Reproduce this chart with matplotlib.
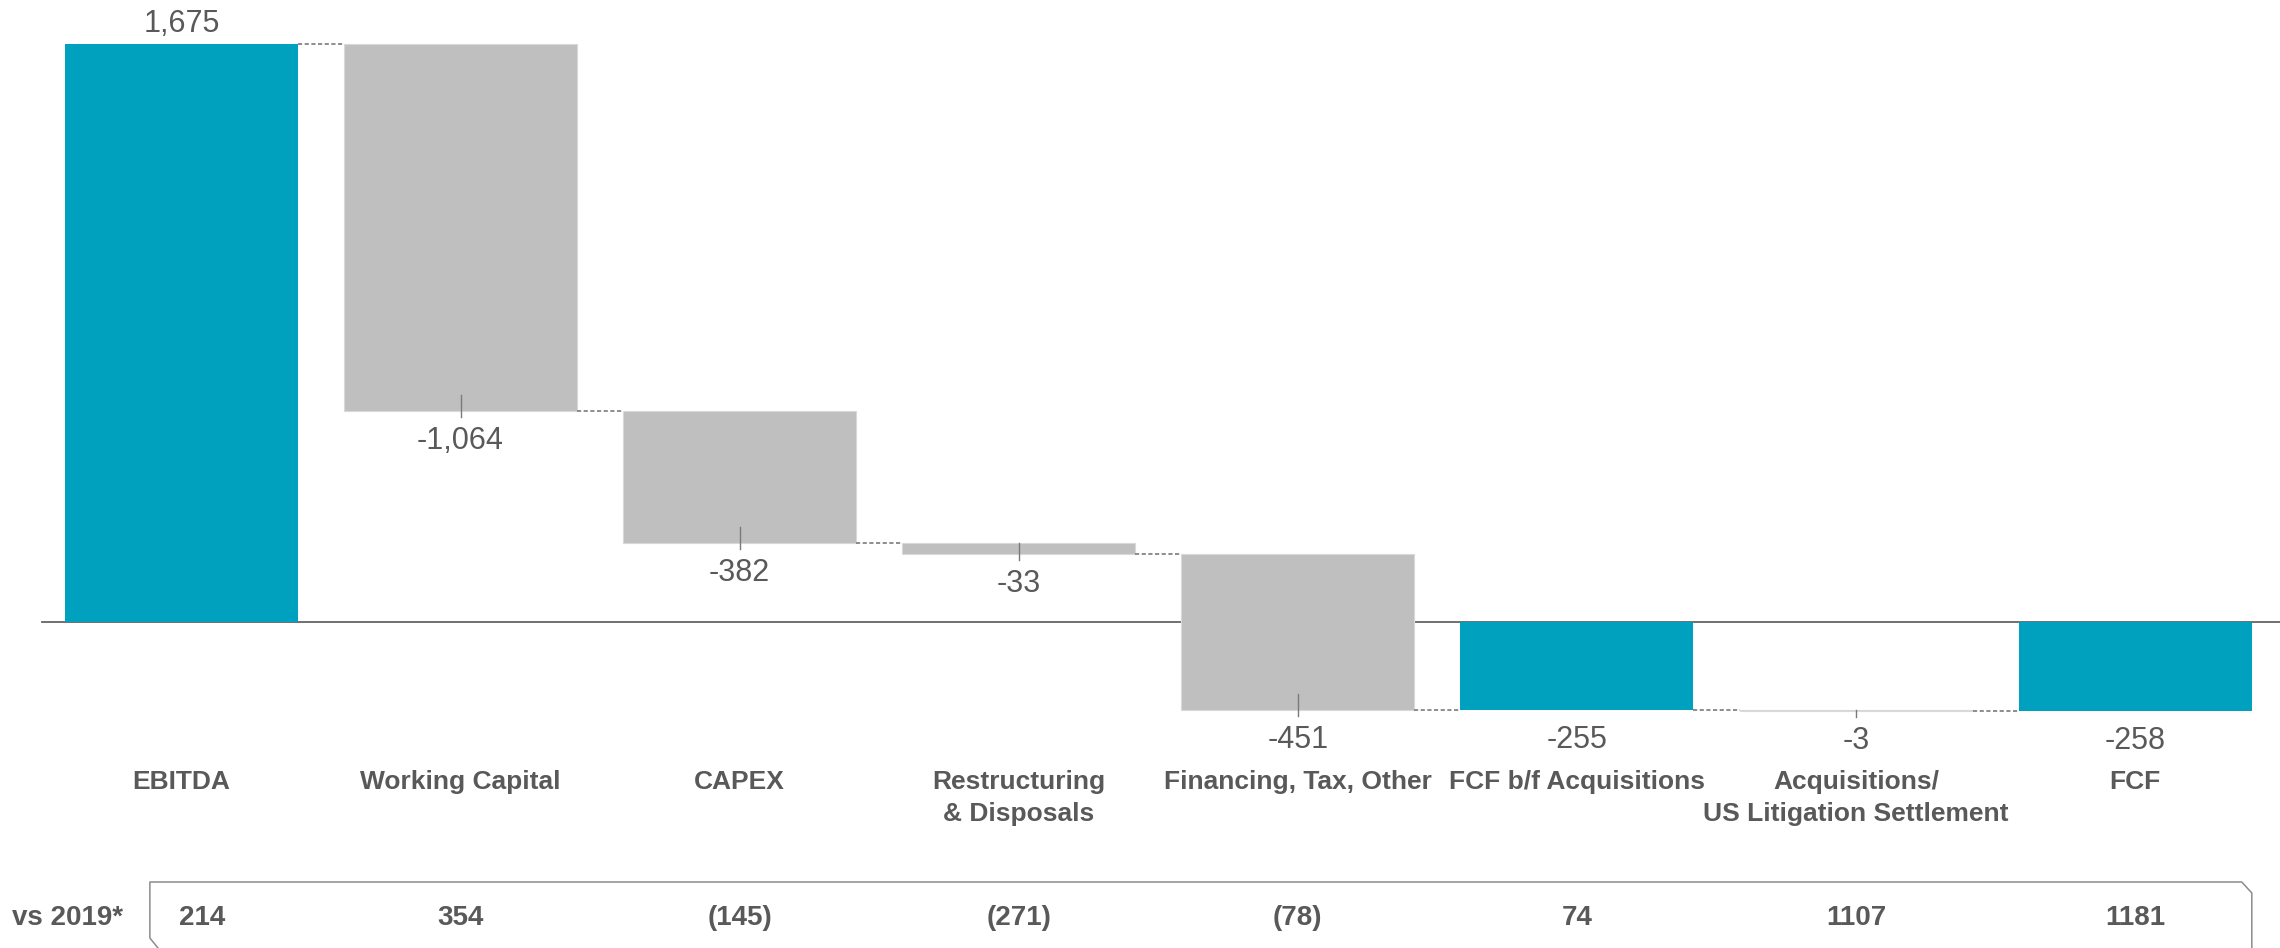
import matplotlib
matplotlib.use("Agg")
import matplotlib.pyplot as plt
import matplotlib.transforms as mtransforms

plt.rcParams['font.family'] = ['Liberation Sans', 'DejaVu Sans']

# data
categories = ['EBITDA', 'Working Capital', 'CAPEX', 'Restructuring\n& Disposals',
              'Financing, Tax, Other', 'FCF b/f Acquisitions',
              'Acquisitions/\nUS Litigation Settlement', 'FCF']
values = [1675, -1064, -382, -33, -451, -255, -3, -258]
is_total = [True, False, False, False, False, True, False, True]
vs2019 = ['214', '354', '(145)', '(271)', '(78)', '74', '1107', '1181']
row_title = 'vs 2019*'

teal = '#00A1BF'
grey = '#BFBFBF'
txt = '#595959'

fig = plt.figure(figsize=(22.8, 9.48), dpi=100)
ax = fig.add_axes([0, 0, 1, 1])
ax.axis('off')
ax.set_xlim(-0.65, 7.519)
ax.set_ylim(-944.7, 1802.4)

ppu = 948 / (1802.4 + 944.7)  # pixels per unit

# waterfall geometry
bottoms = []
tops = []
running = 0
for v, tot in zip(values, is_total):
    if tot:
        b = 0
        running = v
    else:
        b = running
        running += v
    bottoms.append(b)
    tops.append(b + v)

xs = list(range(len(values)))
w = 0.835
colors = [teal if t else grey for t in is_total]
edges = ['none' if t else '#D9D9D9' for t in is_total]
heights = [t - b for t, b in zip(tops, bottoms)]
ax.bar(xs, heights, bottom=bottoms, width=w, color=colors,
       edgecolor=edges, linewidth=0.8, zorder=2)

# zero line
ax.plot([-0.5, 7.519], [0, 0], color='#646464', lw=1.3, zorder=1)

# connectors
for i in range(len(values) - 1):
    lvl = tops[i]
    ax.plot([xs[i] + w / 2, xs[i + 1] - w / 2], [lvl, lvl], color='#7A7A7A',
            lw=1.2, dashes=(2.5, 1.5), zorder=3)

# value labels + small ticks
for i, v in enumerate(values):
    lab = f"{v:,}"
    lo = min(bottoms[i], tops[i])
    hi = max(bottoms[i], tops[i])
    if v > 0:
        ax.annotate(lab, (xs[i], hi), xytext=(0, 8.6), textcoords='offset points',
                    ha='center', va='baseline', fontsize=22, color=txt)
    else:
        ax.annotate(lab, (xs[i], lo), xytext=(0, -10.8), textcoords='offset points',
                    ha='center', va='top', fontsize=22, color=txt)
        if not is_total[i]:
            t0 = min(hi, lo + 16 / ppu)
            ax.plot([xs[i], xs[i]], [t0, lo - 6 / ppu], color='#7A7A7A',
                    lw=1.0, zorder=4)

# category labels
trans = mtransforms.blended_transform_factory(ax.transData, ax.transAxes)
for i, c in enumerate(categories):
    ax.text(xs[i], 1 - 770 / 948, c, transform=trans, ha='center', va='top',
            multialignment='center', fontsize=19, fontweight='bold', color=txt,
            linespacing=1.42)

# bottom comparison row
row_y = 1 - 918 / 948
ax.text(12 / 2280, row_y, row_title, transform=ax.transAxes, ha='left',
        va='center', fontsize=20, fontweight='bold', color=txt)
for i, s in enumerate(vs2019):
    dx = 0.075 if i == 0 else 0.0  # first cell sits a little right of its bar
    ax.text(xs[i] + dx, row_y, s, transform=trans, ha='center', va='center',
            fontsize=20, fontweight='bold', color=txt)

# bracket box around row
bl = -0.113
br = 7.418
top = 1 - 882 / 948
bx = [bl + 0.029, bl, bl, br - 0.036, br, br]
by = [0.0, 10 / 948, top, top, top - 11 / 948, 0.0]
ax.plot(bx, by, transform=trans, color='#8C8C8C', lw=1.1, clip_on=False)

fig.savefig('out.png', dpi=100)
